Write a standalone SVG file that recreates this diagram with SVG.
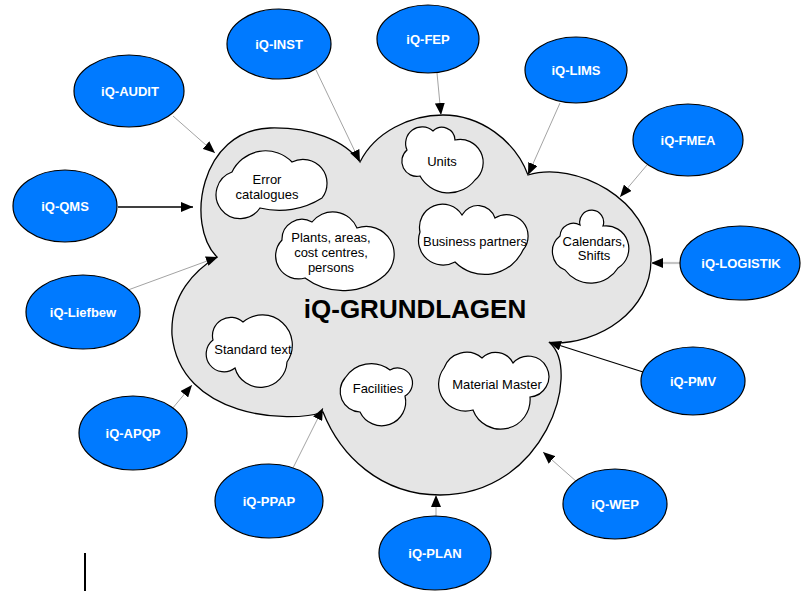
<svg xmlns="http://www.w3.org/2000/svg" width="809" height="591" viewBox="0 0 809 591">
<style>
text{font-family:"Liberation Sans",Arial,sans-serif;}
.sat ellipse{fill:#007aff;stroke:#000;stroke-width:1.2;}
.sat text{fill:#fff;font-size:13px;font-weight:bold;text-anchor:middle;}
.sub path{fill:#fff;stroke:#000;stroke-width:1.2;}
.sub text{fill:#000;font-size:13px;text-anchor:middle;}
.c{stroke:#8c8c8c;stroke-width:0.8;fill:none;marker-end:url(#ah);}
.cb{stroke:#000;stroke-width:1.3;fill:none;marker-end:url(#ah);}
.cl{stroke:#c4c4c4;stroke-width:2.2;fill:none;marker-end:url(#ah);}
</style>
<defs>
<marker id="ah" markerUnits="userSpaceOnUse" markerWidth="12" markerHeight="10" viewBox="0 0 12 10" refX="12" refY="5" orient="auto">
<path d="M0,0 L12,5 L0,10 z" fill="#000"/>
</marker>
</defs>
<rect width="809" height="591" fill="#fff"/>

<g id="grundlagen">
<path d="M217,257 C185,225 200,130 270,128 C310,127 345,140 360,162 C375,132 410,115 443,115 C480,115 515,140 528,175 C575,160 651,200 651,260 C651,310 600,345 550,343 C582,372 545,495 440,495 C380,495 340,455 323,412 C290,424 180,418 172,335 C170,295 195,270 217,257 Z" fill="#e5e5e5" stroke="#000" stroke-width="1.3"/>
<text x="415" y="318" font-size="26" font-weight="bold" text-anchor="middle">iQ-GRUNDLAGEN</text>
</g>

<g id="error-catalogues" class="sub">
<path d="M232,172 A37,37 0 0 1 292,162 A24,24 0 0 1 322,198 A80,80 0 0 1 260,208 A24,24 0 1 1 232,172 Z"/>
<text x="267" y="184">Error</text>
<text x="267" y="199">catalogues</text>
</g>
<g id="units" class="sub">
<path d="M407,150 A16.5,16.5 0 0 1 433,131 A13,13 0 0 1 455,140 A23,23 0 0 1 475,180 A33,33 0 0 1 420,176 A15,15 0 0 1 407,150 Z"/>
<text x="442" y="166">Units</text>
</g>
<g id="business-partners" class="sub">
<path d="M420,232 A23,23 0 0 1 462,215 A18,18 0 0 1 495,218 A21.5,21.5 0 0 1 523,250 A42,42 0 0 1 455,262 A24.6,24.6 0 0 1 420,232 Z"/>
<text x="475" y="246">Business partners</text>
</g>
<g id="calendars" class="sub">
<path d="M580,225 A12,12 0 1 1 603,226 A22.8,22.8 0 0 1 618,268 A32,32 0 0 1 565,270 A19.8,19.8 0 0 1 560,236 A13.4,13.4 0 0 1 580,225 Z"/>
<text x="594" y="246">Calendars,</text>
<text x="594" y="260">Shifts</text>
</g>
<g id="plants" class="sub">
<path d="M282,240 A20,20 0 0 1 312,222 A26.3,26.3 0 0 1 357,228 A27.9,27.9 0 0 1 385,275 A64,64 0 0 1 305,278 A23,23 0 0 1 282,240 Z"/>
<text x="331" y="242">Plants, areas,</text>
<text x="331" y="257">cost centres,</text>
<text x="331" y="272">persons</text>
</g>
<g id="standard-text" class="sub">
<path d="M213,340 A18.3,18.3 0 0 1 243,322 A30,30 0 0 1 287,362 A26.5,26.5 0 0 1 235,368 A17.3,17.3 0 0 1 213,340 Z"/>
<text x="253" y="354">Standard text</text>
</g>
<g id="facilities" class="sub">
<path d="M345,378 A31,31 0 0 1 390,370 A15,15 0 0 1 405,396 A24,24 0 0 1 360,412 A20.7,20.7 0 0 1 345,378 Z"/>
<text x="378" y="393">Facilities</text>
</g>
<g id="material-master" class="sub">
<path d="M444,368 A24,24 0 0 1 482,358 A19.4,19.4 0 0 1 513,363 A20.5,20.5 0 1 1 530,397 A29.5,29.5 0 0 1 473,410 A26.9,26.9 0 0 1 444,368 Z"/>
<text x="497" y="389">Material Master</text>
</g>

<g id="connectors">
<line class="c" x1="173" y1="116" x2="215" y2="153"/>
<line class="c" x1="316" y1="70" x2="360" y2="162"/>
<line class="c" x1="437" y1="73" x2="441" y2="115"/>
<line class="c" x1="560" y1="103" x2="528" y2="175"/>
<line class="c" x1="647" y1="165" x2="620" y2="197"/>
<line class="cl" x1="681" y1="263" x2="651" y2="263"/>
<line class="cb" x1="118" y1="207" x2="193" y2="207"/>
<line class="c" x1="128" y1="290" x2="218" y2="257"/>
<line class="c" x1="172" y1="409" x2="192" y2="385"/>
<line class="c" x1="292" y1="470" x2="323" y2="408"/>
<line class="c" x1="436" y1="517" x2="436" y2="495"/>
<line class="c" x1="577" y1="482" x2="543" y2="452"/>
<line class="cb" x1="643" y1="372" x2="549" y2="342"/>
</g>

<g id="iq-inst" class="sat"><ellipse cx="279" cy="44" rx="52" ry="35"/><text x="279" y="49">iQ-INST</text></g>
<g id="iq-audit" class="sat"><ellipse cx="129" cy="91" rx="55" ry="36"/><text x="130" y="96">iQ-AUDIT</text></g>
<g id="iq-fep" class="sat"><ellipse cx="428" cy="39" rx="51" ry="34"/><text x="428" y="44">iQ-FEP</text></g>
<g id="iq-lims" class="sat"><ellipse cx="576" cy="70" rx="51" ry="33"/><text x="576" y="75">iQ-LIMS</text></g>
<g id="iq-fmea" class="sat"><ellipse cx="688" cy="140" rx="55" ry="36"/><text x="688" y="145">iQ-FMEA</text></g>
<g id="iq-logistik" class="sat"><ellipse cx="740" cy="263" rx="60" ry="37"/><text x="741" y="268">iQ-LOGISTIK</text></g>
<g id="iq-qms" class="sat"><ellipse cx="65" cy="206" rx="52" ry="36"/><text x="65" y="211">iQ-QMS</text></g>
<g id="iq-liefbew" class="sat"><ellipse cx="83" cy="312" rx="57" ry="37"/><text x="83" y="317">iQ-Liefbew</text></g>
<g id="iq-apqp" class="sat"><ellipse cx="133" cy="433" rx="54" ry="37"/><text x="133" y="438">iQ-APQP</text></g>
<g id="iq-ppap" class="sat"><ellipse cx="269" cy="501" rx="54" ry="37"/><text x="269" y="506">iQ-PPAP</text></g>
<g id="iq-plan" class="sat"><ellipse cx="435" cy="553" rx="56" ry="37"/><text x="435" y="558">iQ-PLAN</text></g>
<g id="iq-pmv" class="sat"><ellipse cx="693" cy="381" rx="52" ry="34"/><text x="693" y="386">iQ-PMV</text></g>
<g id="iq-wep" class="sat"><ellipse cx="615" cy="504" rx="52" ry="35"/><text x="615" y="509">iQ-WEP</text></g>

<line x1="85" y1="553" x2="85" y2="591" stroke="#000" stroke-width="2"/>
</svg>
